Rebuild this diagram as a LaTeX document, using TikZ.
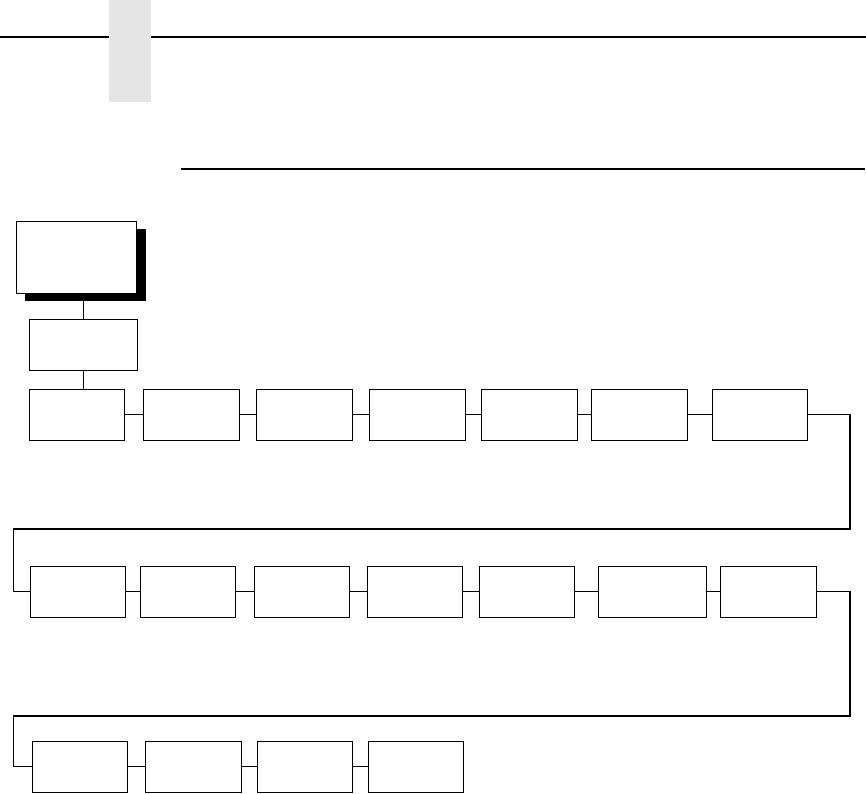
\documentclass[tikz,border=0pt]{standalone}
\usetikzlibrary{shadows}
\definecolor{tabgray}{HTML}{E5E5E5}
\begin{document}
\begin{tikzpicture}[x=1pt,y=-1pt,
  bx/.style={draw=black, line width=1.1pt, fill=white, inner sep=0pt, outer sep=0pt, minimum height=51pt},
  conn/.style={draw=black, line width=1.1pt}]
\useasboundingbox (0,0) rectangle (866,793);
% header decorations
\draw[line width=2.2pt] (0,37) -- (866,37);
\fill[tabgray] (109,0) rectangle (151,102);
\draw[line width=1.1pt] (181,169) -- (865,169);
% top box with shadow
\node[bx, minimum width=120.4pt, minimum height=72pt,
  drop shadow={shadow xshift=9pt, shadow yshift=-8pt, fill=black, opacity=1}] (T) at (76.5,257.3) {};
\node[bx, minimum width=108pt, minimum height=51.3pt] (S) at (83.3,344.7) {};
% row 1
\node[bx, minimum width=95.4pt] (A1) at (77,414.8) {};
\node[bx, minimum width=96pt] (A2) at (191.3,414.8) {};
\node[bx, minimum width=96pt] (A3) at (304.3,414.8) {};
\node[bx, minimum width=96pt] (A4) at (417.5,414.8) {};
\node[bx, minimum width=96pt] (A5) at (529.3,414.8) {};
\node[bx, minimum width=96pt] (A6) at (639.5,414.8) {};
\node[bx, minimum width=95.4pt] (A7) at (760,414.8) {};
% row 2
\node[bx, minimum width=95pt] (B1) at (77.8,591.8) {};
\node[bx, minimum width=95.4pt] (B2) at (188,591.8) {};
\node[bx, minimum width=95.4pt] (B3) at (302,591.8) {};
\node[bx, minimum width=95.4pt] (B4) at (415,591.8) {};
\node[bx, minimum width=95.4pt] (B5) at (527,591.8) {};
\node[bx, minimum width=108pt] (B6) at (652.5,591.8) {};
\node[bx, minimum width=96.4pt] (B7) at (768.5,591.8) {};
% row 3
\node[bx, minimum width=95pt] (C1) at (79.8,766.9) {};
\node[bx, minimum width=96pt] (C2) at (193.3,766.9) {};
\node[bx, minimum width=95pt] (C3) at (305.2,766.9) {};
\node[bx, minimum width=95pt] (C4) at (415.8,766.9) {};
% connectors
\draw[conn] (S.north) -- (S.north |- T.south);
\draw[conn] (S.south) -- (S.south |- A1.north);
\foreach \a/\b in {A1/A2,A2/A3,A3/A4,A4/A5,A5/A6,A6/A7,
                   B1/B2,B2/B3,B3/B4,B4/B5,B5/B6,B6/B7,
                   C1/C2,C2/C3,C3/C4}
  \draw[conn] (\a.east) -- (\b.west);
\coordinate (w1a) at (850,529);
\coordinate (w1b) at (13.3,529);
\coordinate (w2a) at (850,716);
\coordinate (w2b) at (13.3,716);
\draw[conn] (A7.east) -| (w1a) -- (w1b) |- (B1.west);
\draw[conn] (B7.east) -| (w2a) -- (w2b) |- (C1.west);
\end{tikzpicture}
\end{document}
